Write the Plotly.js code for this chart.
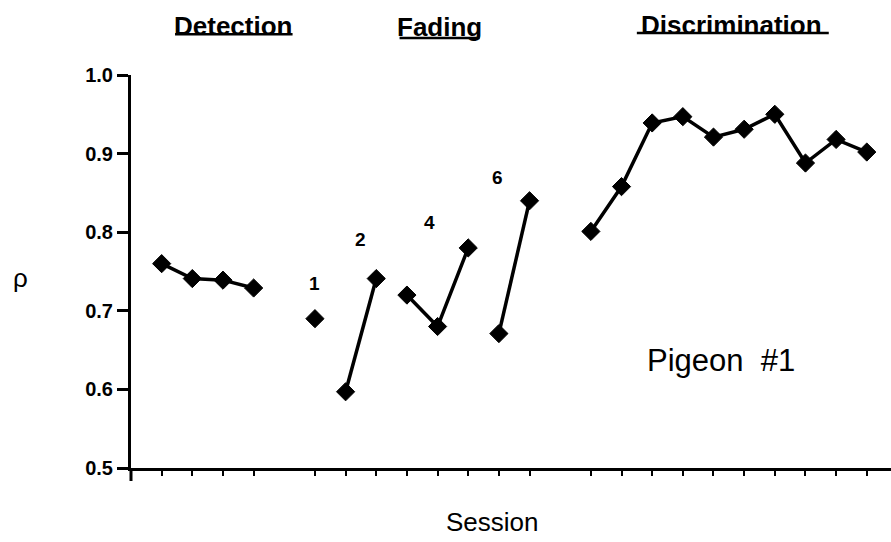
<!DOCTYPE html>
<html>
<head>
<meta charset="utf-8">
<script src="https://cdn.plot.ly/plotly-3.0.1.min.js"></script>
<style>html,body{margin:0;padding:0;background:#fff;}#chart{width:891px;height:542px;}</style>
</head>
<body>
<div id="chart"></div>
<script>
// Session indices and values (rho) per phase segment
const detectionSessions = [1, 2, 3, 4];
const detectionValues = [0.760, 0.741, 0.739, 0.729];
const fade1Sessions = [6];
const fade1Values = [0.690];
const fade2Sessions = [7, 8];
const fade2Values = [0.597, 0.741];
const fade4Sessions = [9, 10, 11];
const fade4Values = [0.720, 0.680, 0.780];
const fade6Sessions = [12, 13];
const fade6Values = [0.671, 0.840];
const discrimSessions = [15, 16, 17, 18, 19, 20, 21, 22, 23, 24];
const discrimValues = [0.801, 0.858, 0.939, 0.947, 0.921, 0.931, 0.950, 0.888, 0.918, 0.902];
const xTickVals = [1, 2, 3, 4, 6, 7, 8, 9, 10, 11, 12, 13, 15, 16, 17, 18, 19, 20, 21, 22, 23, 24];
const yTickVals = [0.5, 0.6, 0.7, 0.8, 0.9, 1.0];
const yTickText = ['0.5', '0.6', '0.7', '0.8', '0.9', '1.0'];
const stageLabels = ['1', '2', '4', '6'];
const phaseLabels = ['Detection', 'Fading', 'Discrimination'];

const FONT = 'Liberation Sans, Arial, Helvetica, sans-serif';
const segs = [
  [detectionSessions, detectionValues],
  [fade1Sessions, fade1Values],
  [fade2Sessions, fade2Values],
  [fade4Sessions, fade4Values],
  [fade6Sessions, fade6Values],
  [discrimSessions, discrimValues]
];
const traces = segs.map(s => ({
  x: s[0], y: s[1], type: 'scatter', mode: 'lines+markers',
  line: {color: '#000', width: 3.5},
  marker: {symbol: 'diamond', size: 14, color: '#000', line: {color: '#000', width: 1}},
  showlegend: false, hoverinfo: 'skip', cliponaxis: false
}));

const C = {showarrow: false, xanchor: 'center', yanchor: 'middle'};
const stagePos = [[6.0, 0.735], [7.49, 0.791], [9.74, 0.812], [11.95, 0.870]];
const annotations = [];
stageLabels.forEach((t, i) => annotations.push(Object.assign({
  x: stagePos[i][0], y: stagePos[i][1], xref: 'x', yref: 'y', text: '<b>' + t + '</b>',
  font: {family: FONT, size: 19, color: '#000'}
}, C)));
const phasePos = [[3.34, 1.125], [10.07, 1.123], [19.6, 1.128]];
phaseLabels.forEach((t, i) => annotations.push(Object.assign({
  x: phasePos[i][0], y: phasePos[i][1], xref: 'x', yref: 'paper', text: '<b>' + t + '</b>',
  font: {family: FONT, size: 26, color: '#000'}
}, C)));
annotations.push(Object.assign({x: 19.24, y: 0.637, xref: 'x', yref: 'y', text: 'Pigeon  #1',
  font: {family: FONT, size: 31, color: '#000'}}, C));
annotations.push(Object.assign({x: 0.476, y: -0.137, xref: 'paper', yref: 'paper', text: 'Session',
  font: {family: FONT, size: 26, color: '#000'}}, C));
annotations.push(Object.assign({x: -0.146, y: 0.483, xref: 'paper', yref: 'paper', text: 'ρ',
  font: {family: FONT, size: 26, color: '#000'}}, C));

const shapes = [
  {type: 'line', xref: 'x', yref: 'paper', x0: 1.437, x1: 5.27, y0: 1.104, y1: 1.104, line: {color: '#000', width: 2.5}},
  {type: 'line', xref: 'x', yref: 'paper', x0: 8.76, x1: 11.37, y0: 1.094, y1: 1.094, line: {color: '#000', width: 2.5}},
  {type: 'line', xref: 'x', yref: 'paper', x0: 16.5, x1: 22.76, y0: 1.107, y1: 1.107, line: {color: '#000', width: 2.5}},
  {type: 'line', xref: 'paper', yref: 'paper', ysizemode: 'pixel', yanchor: 0, x0: 0, x1: 0, y0: 0, y1: -13, line: {color: '#000', width: 3}}
];

const layout = {
  width: 891, height: 542,
  margin: {l: 131, r: 0, t: 75, b: 74},
  paper_bgcolor: '#fff', plot_bgcolor: '#fff',
  showlegend: false,
  xaxis: {
    range: [0, 24.79], showgrid: false, zeroline: false,
    showline: true, linecolor: '#000', linewidth: 3,
    tickmode: 'array', tickvals: xTickVals, showticklabels: false,
    ticks: 'outside', ticklen: 5, tickwidth: 2, tickcolor: '#000'
  },
  yaxis: {
    range: [0.5, 1.0], showgrid: false, zeroline: false,
    showline: true, linecolor: '#000', linewidth: 3,
    tickmode: 'array', tickvals: yTickVals, ticktext: yTickText,
    ticks: 'outside', ticklen: 11, tickwidth: 3, tickcolor: '#000',
    tickfont: {family: FONT, size: 20, color: '#000', weight: 'bold'}
  },
  annotations: annotations,
  shapes: shapes
};
Plotly.newPlot('chart', traces, layout, {staticPlot: true, displayModeBar: false});
</script>
</body>
</html>
